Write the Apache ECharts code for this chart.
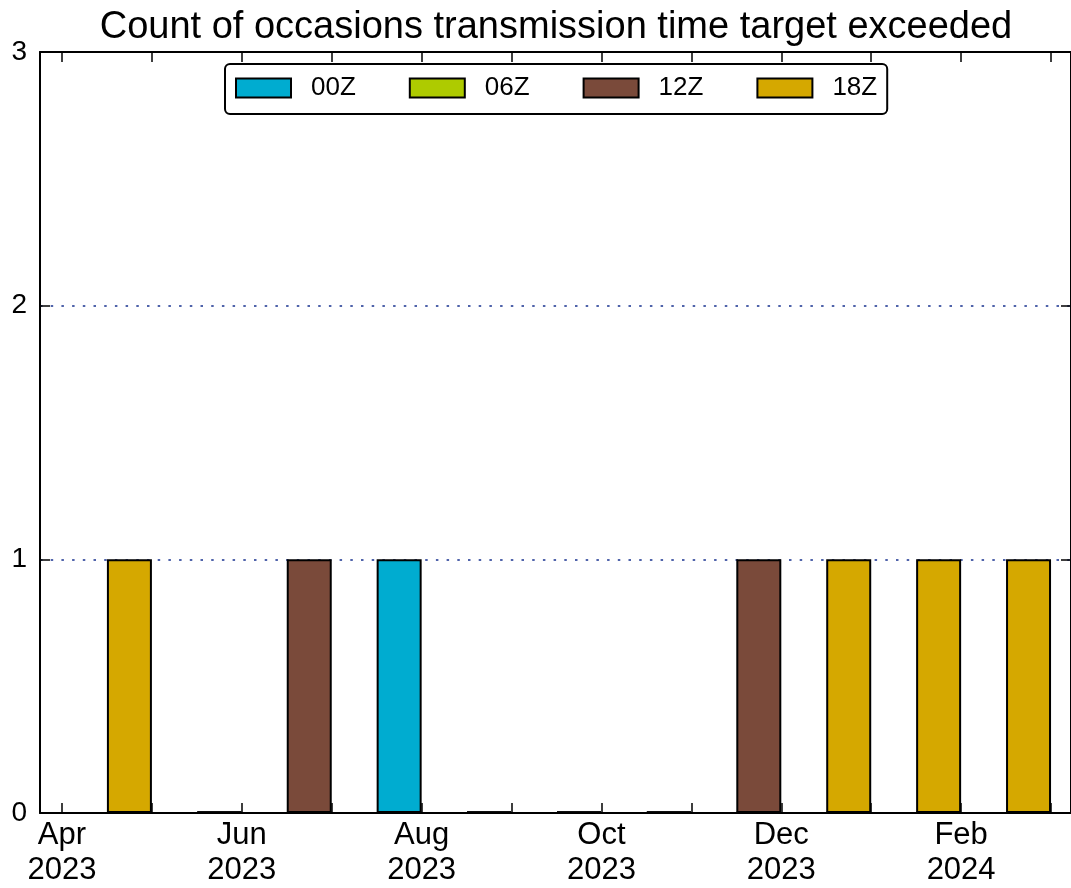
<!DOCTYPE html>
<html>
<head>
<meta charset="utf-8">
<title>Transmission time target exceeded</title>
<script src="https://cdn.jsdelivr.net/npm/echarts@6/dist/echarts.min.js"></script>
<style>
  html, body { margin: 0; padding: 0; background: #fff; }
  #chart { width: 1071px; height: 888px; }
</style>
</head>
<body>
<div id="chart"></div>
<script>
// monthly periods (one bar column each)
var periods = ['Apr 2023', 'May 2023', 'Jun 2023', 'Jul 2023', 'Aug 2023', 'Sep 2023',
               'Oct 2023', 'Nov 2023', 'Dec 2023', 'Jan 2024', 'Feb 2024'];
// month ticks on the x axis
var tickMonths = ['Apr', 'May', 'Jun', 'Jul', 'Aug', 'Sep', 'Oct', 'Nov', 'Dec', 'Jan', 'Feb', 'Mar'];
var tickYears = ['2023', '2023', '2023', '2023', '2023', '2023', '2023', '2023', '2023', '2024', '2024', '2024'];
var cycles = ['00Z', '06Z', '12Z', '18Z'];
var count00 = [0, 0, 0, 1, 0, 0, 0, 0, 0, 0, 0];
var count06 = [0, 0, 0, 0, 0, 0, 0, 0, 0, 0, 0];
var count12 = [0, 0, 1, 0, 0, 0, 0, 1, 0, 0, 0];
var count18 = [1, 0, 0, 0, 0, 0, 0, 0, 1, 1, 1];

var colors = ['#00acd0', '#aecb00', '#7a4a3a', '#d5a800'];
var counts = [count00, count06, count12, count18];

var FONT = '"Liberation Sans", Helvetica, Arial, sans-serif';

// each bar fills the second half of its month
function toPoints(vals){
    return periods.map(function (p, i) { return [i + 0.75, vals[i]]; });
}

var series = [];
for (var k = 0; k < cycles.length; k++){
    series.push({
        type: 'bar',
        name: cycles[k],
        stack: 'total',
        data: toPoints(counts[k]),
        barWidth: 45,
        barMinHeight: 1,
        itemStyle: {
            color: colors[k],
            borderColor: '#000',
            borderWidth: 2
        }
    });
}

var monthIdx = tickMonths.map(function (m, i) { return i; });
var labelIdx = monthIdx.filter(function (i) { return i % 2 === 0; });

var xMin = -22 / 90, xMax = 1010 / 90;

function xAxisOpt(pos, showLabel){
    return {
        type: 'value',
        min: xMin,
        max: xMax,
        position: pos,
        axisLine: { show: true, onZero: false, lineStyle: { color: '#000', width: 2 } },
        axisTick: { show: true, inside: true, length: 10, customValues: monthIdx,
                    lineStyle: { color: '#000', width: 1.5 } },
        axisLabel: {
            show: showLabel,
            customValues: labelIdx,
            margin: 5,
            fontFamily: FONT,
            fontSize: 31,
            lineHeight: 35,
            color: '#000',
            formatter: function (v) { return tickMonths[v] + '\n' + tickYears[v]; }
        },
        splitLine: { show: false }
    };
}

function yAxisOpt(pos, showLabel, showSplit){
    return {
        type: 'value',
        min: 0,
        max: 3,
        interval: 1,
        position: pos,
        axisLine: { show: true, onZero: false, lineStyle: { color: '#000', width: 2 } },
        axisTick: { show: true, inside: true, length: 10, lineStyle: { color: '#000', width: 1.5 } },
        axisLabel: { show: showLabel, margin: 13, fontFamily: FONT, fontSize: 28, color: '#000' },
        splitLine: { show: showSplit, lineStyle: { color: '#16308f', width: 1.6, type: [2.5, 8.2] } }
    };
}

var option = {
    backgroundColor: '#fff',
    animation: false,
    textStyle: { fontFamily: FONT },
    title: {
        text: 'Count of occasions transmission time target exceeded',
        left: 556,
        textAlign: 'center',
        top: 9,
        padding: 0,
        textStyle: { fontFamily: FONT, fontSize: 38, fontWeight: 'normal', color: '#000' }
    },
    legend: {
        data: cycles,
        left: 225,
        top: 64,
        padding: [11, 10, 13, 10],
        itemWidth: 55,
        itemHeight: 19,
        itemGap: 53,
        icon: 'rect',
        borderColor: '#000',
        borderWidth: 2,
        borderRadius: 5,
        backgroundColor: '#fff',
        textStyle: { fontFamily: FONT, fontSize: 26, color: '#000', padding: [0, 0, 0, 15] }
    },
    grid: { left: 40, top: 52, width: 1032, height: 763 },
    xAxis: [xAxisOpt('bottom', true), xAxisOpt('top', false)],
    yAxis: [yAxisOpt('left', true, true), yAxisOpt('right', false, false)],
    series: series
};

var myChart = echarts.init(document.getElementById('chart'));
myChart.setOption(option);
</script>
</body>
</html>
